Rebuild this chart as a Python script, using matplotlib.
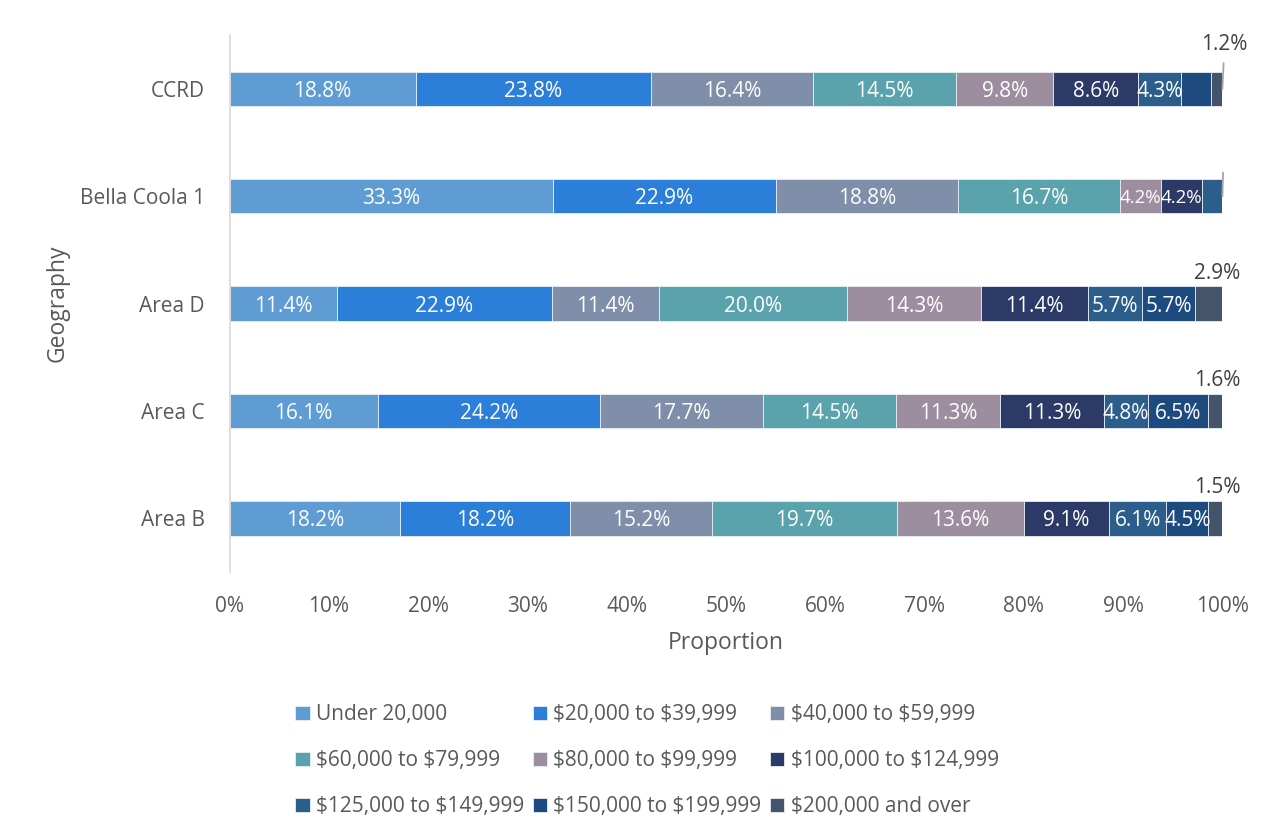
import numpy as np
import matplotlib
matplotlib.use("Agg")
import matplotlib.pyplot as plt

plt.rcParams['font.family'] = ['Open Sans', 'DejaVu Sans']

# geographies, top to bottom
geographies = ["CCRD", "Bella Coola 1", "Area D", "Area C", "Area B"]
brackets = ["Under 20,000", "$20,000 to $39,999", "$40,000 to $59,999",
            "$60,000 to $79,999", "$80,000 to $99,999", "$100,000 to $124,999",
            "$125,000 to $149,999", "$150,000 to $199,999", "$200,000 and over"]

# percentages per bracket, same order as geographies
under_20k = [18.8, 33.3, 11.4, 16.1, 18.2]
b20_40k = [23.8, 22.9, 22.9, 24.2, 18.2]
b40_60k = [16.4, 18.8, 11.4, 17.7, 15.2]
b60_80k = [14.5, 16.7, 20.0, 14.5, 19.7]
b80_100k = [9.8, 4.2, 14.3, 11.3, 13.6]
b100_125k = [8.6, 4.2, 11.4, 11.3, 9.1]
b125_150k = [4.3, 2.1, 5.7, 4.8, 6.1]
b150_200k = [3.0, 0.0, 5.7, 6.5, 4.5]
b200k_over = [1.2, 0.0, 2.9, 1.6, 1.5]

# segments whose label is not shown in the original
hidden_labels = {("CCRD", "$150,000 to $199,999"), ("Bella Coola 1", "$125,000 to $149,999")}

colors = ["#5E9CD3", "#2C7FD8", "#7F8FAA", "#5AA3AC", "#9D8E9F",
          "#2B3A66", "#2C5E8C", "#1E4B7F", "#44546A"]

series = [under_20k, b20_40k, b40_60k, b60_80k, b80_100k,
          b100_125k, b125_150k, b150_200k, b200k_over]
data = np.array(series, dtype=float)
totals = data.sum(axis=0)
shares = data / totals * 100  # 100% stacked

fig = plt.figure(figsize=(12.76, 8.34), dpi=100)
ax = fig.add_axes([0.180, 0.314, 0.778, 0.644])

y = np.arange(len(geographies))[::-1]
left = np.zeros(len(geographies))
handles = []
for i, name in enumerate(brackets):
    bars = ax.barh(y, shares[i], left=left, height=0.32, color=colors[i],
                   edgecolor="#e8eef5", linewidth=0.6)
    handles.append(bars)
    for j, geo in enumerate(geographies):
        val = data[i, j]
        if val <= 0 or (geo, name) in hidden_labels:
            continue
        if i == len(brackets) - 1:
            continue
        # narrow segments get a slightly smaller label so neighbours don't collide
        fs = 13.5 if shares[i, j] < 4.2 else 15
        ax.text(left[j] + shares[i, j] / 2, y[j], f"{val:.1f}%", ha="center",
                va="center_baseline", color="white", fontsize=fs)
    left += shares[i]

# outside labels for the last bracket
last = len(brackets) - 1
for j, geo in enumerate(geographies):
    val = data[last, j]
    if geo == "CCRD":
        ax.annotate(f"{val:.1f}%", xy=(100, y[j]), xytext=(1.5, 28), textcoords="offset points",
                    ha="center", va="baseline", color="#404040", fontsize=15,
                    arrowprops=dict(arrowstyle="-", color="#a6a6a6", lw=1.3, shrinkA=4, shrinkB=0))
    elif val > 0:
        ax.annotate(f"{val:.1f}%", xy=(100, y[j]), xytext=(-4, 18), textcoords="offset points",
                    ha="center", va="baseline", color="#404040", fontsize=15)
    else:
        ax.annotate("", xy=(100, y[j]), xytext=(0.5, 17), textcoords="offset points",
                    arrowprops=dict(arrowstyle="-", color="#a6a6a6", lw=1.3, shrinkA=0, shrinkB=0))

ax.set_xlim(0, 100)
ax.set_ylim(-0.5, 4.5)
ax.set_xticks(np.arange(0, 101, 10))
ax.set_xticklabels([f"{t}%" for t in range(0, 101, 10)])
ax.set_yticks(y)
ax.set_yticklabels(geographies)
ax.tick_params(axis="both", length=0, labelsize=15, colors="#595959")
ax.tick_params(axis="x", pad=17)
ax.tick_params(axis="y", pad=18)
for s in ["top", "right", "bottom"]:
    ax.spines[s].set_visible(False)
ax.spines["left"].set_color("#d9d9d9")
ax.spines["left"].set_linewidth(1.2)

ax.set_xlabel("Proportion", fontsize=16.5, color="#595959", labelpad=10)
ax.set_ylabel("Geography", fontsize=16.5, color="#595959", labelpad=7)

# legend laid out row by row
order = [0, 3, 6, 1, 4, 7, 2, 5, 8]
leg_labels = [brackets[k].replace("$", r"\$") for k in order]
leg = fig.legend([handles[k] for k in order], leg_labels,
                 loc="center", bbox_to_anchor=(0.507, 0.088), ncol=3, frameon=False,
                 fontsize=15, handlelength=0.7, handleheight=0.7, handletextpad=0.3,
                 columnspacing=0.4, labelspacing=1.2, labelcolor="#595959")

fig.savefig("out.png", dpi=100)
